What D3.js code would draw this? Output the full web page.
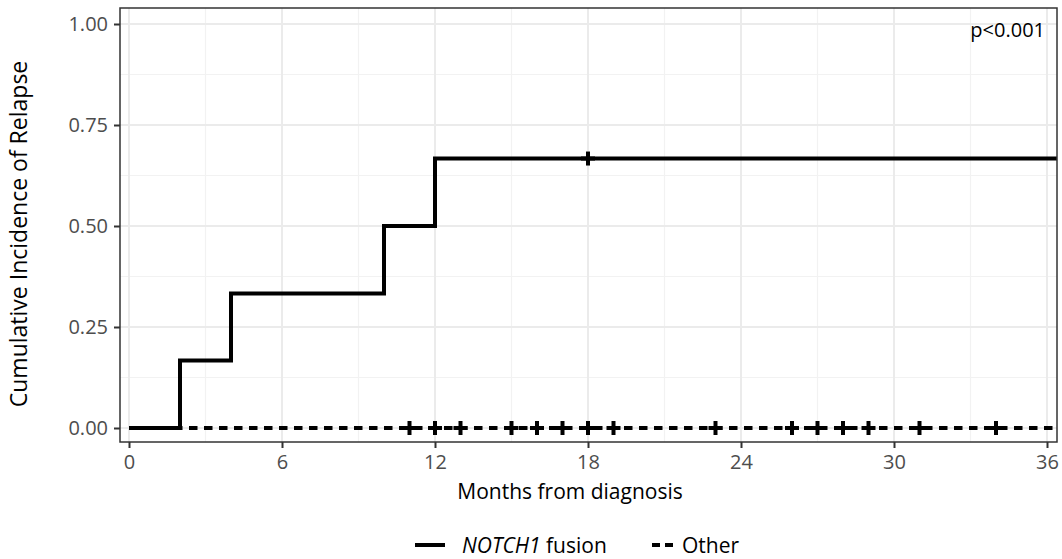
<!DOCTYPE html>
<html>
<head>
<meta charset="utf-8">
<script src="https://cdn.jsdelivr.net/npm/d3@7"></script>
<style>
body { margin: 0; background: #fff; }
text { font-family: "Open Sans", sans-serif; }
</style>
</head>
<body>
<div id="chart"></div>
<script>
// step data
const notchTime = [0, 2, 4, 10, 12, 36.4];
const notchCif = [0, 0.167, 0.333, 0.5, 0.667, 0.667];
const notchCensor = [18];
const otherTime = [0, 36.4];
const otherCif = [0, 0];
const otherCensor = [11, 12, 13, 15, 16, 17, 18, 19, 23, 26, 27, 28, 29, 31, 34];
const xTicks = [0, 6, 12, 18, 24, 30, 36];
const yTicks = [0, 0.25, 0.5, 0.75, 1];

const W = 1062, H = 559;
const panel = {left: 120, right: 1057, top: 8, bottom: 442};

const svg = d3.select("#chart").append("svg")
    .attr("width", W).attr("height", H);

const x = d3.scaleLinear().domain([0, 36]).range([129, 1047]);
const y = d3.scaleLinear().domain([0, 1]).range([428, 24]);

svg.append("defs").append("clipPath").attr("id", "clip")
    .append("rect")
    .attr("x", panel.left).attr("y", panel.top)
    .attr("width", panel.right - panel.left).attr("height", panel.bottom - panel.top);

const g = svg.append("g");

// minor grid
const xMinor = [3, 9, 15, 21, 27, 33];
const yMinor = [0.125, 0.375, 0.625, 0.875];
g.selectAll(".xminor").data(xMinor).enter().append("line")
    .attr("x1", d => x(d)).attr("x2", d => x(d))
    .attr("y1", panel.top).attr("y2", panel.bottom)
    .attr("stroke", "#f2f2f2").attr("stroke-width", 1.2);
g.selectAll(".yminor").data(yMinor).enter().append("line")
    .attr("y1", d => y(d)).attr("y2", d => y(d))
    .attr("x1", panel.left).attr("x2", panel.right)
    .attr("stroke", "#f2f2f2").attr("stroke-width", 1.2);
// major grid
g.selectAll(".xmajor").data(xTicks).enter().append("line")
    .attr("x1", d => x(d)).attr("x2", d => x(d))
    .attr("y1", panel.top).attr("y2", panel.bottom)
    .attr("stroke", "#ebebeb").attr("stroke-width", 2);
g.selectAll(".ymajor").data(yTicks).enter().append("line")
    .attr("y1", d => y(d)).attr("y2", d => y(d))
    .attr("x1", panel.left).attr("x2", panel.right)
    .attr("stroke", "#ebebeb").attr("stroke-width", 2);

// curves
const line = d3.line().curve(d3.curveStepAfter);
const curves = svg.append("g").attr("clip-path", "url(#clip)");

curves.append("path")
    .attr("d", line(otherTime.map((t, i) => [x(t), y(otherCif[i])])))
    .attr("fill", "none").attr("stroke", "#000")
    .attr("stroke-width", 4).attr("stroke-dasharray", "8.5,6.5");

curves.append("path")
    .attr("d", line(notchTime.map((t, i) => [x(t), y(notchCif[i])])))
    .attr("fill", "none").attr("stroke", "#000")
    .attr("stroke-width", 4);

// censor marks
function plus(sel, times, val) {
    const s = 7;
    times.forEach(t => {
        const cx = x(t), cy = y(val);
        sel.append("line").attr("x1", cx - s).attr("x2", cx + s)
            .attr("y1", cy).attr("y2", cy)
            .attr("stroke", "#000").attr("stroke-width", 4);
        sel.append("line").attr("x1", cx).attr("x2", cx)
            .attr("y1", cy - s).attr("y2", cy + s)
            .attr("stroke", "#000").attr("stroke-width", 4);
    });
}
plus(curves, otherCensor, 0);
plus(curves, notchCensor, 0.667);

// panel border
svg.append("rect")
    .attr("x", panel.left).attr("y", panel.top)
    .attr("width", panel.right - panel.left).attr("height", panel.bottom - panel.top)
    .attr("fill", "none").attr("stroke", "#333").attr("stroke-width", 1.5);

// axes
const xAxis = svg.append("g")
    .attr("transform", `translate(0,${panel.bottom})`)
    .call(d3.axisBottom(x).tickValues(xTicks).tickSize(6).tickPadding(7).tickFormat(d3.format("d")));
const yAxis = svg.append("g")
    .attr("transform", `translate(${panel.left},0)`)
    .call(d3.axisLeft(y).tickValues(yTicks).tickSize(6).tickPadding(6).tickFormat(d3.format(".2f")));
[xAxis, yAxis].forEach(a => {
    a.select(".domain").remove();
    a.selectAll(".tick line").attr("stroke", "#333").attr("stroke-width", 2);
    a.selectAll(".tick text").attr("fill", "#4d4d4d")
        .style("font-family", "'Open Sans', sans-serif").style("font-size", "20px");
});

// titles
svg.append("text")
    .attr("x", 570).attr("y", 499)
    .attr("text-anchor", "middle").attr("font-size", 21).attr("fill", "#000")
    .text("Months from diagnosis");
svg.append("text")
    .attr("transform", "translate(27,234) rotate(-90)")
    .attr("text-anchor", "middle").attr("font-size", 23).attr("fill", "#000")
    .text("Cumulative Incidence of Relapse");

svg.append("text")
    .attr("x", 1045).attr("y", 37)
    .attr("text-anchor", "end").attr("font-size", 20).attr("fill", "#000")
    .text("p<0.001");

// legend
const leg = svg.append("g");
leg.append("line").attr("x1", 415).attr("x2", 445).attr("y1", 545).attr("y2", 545)
    .attr("stroke", "#000").attr("stroke-width", 4);
const t1 = leg.append("text").attr("x", 462).attr("y", 553).attr("font-size", 21).attr("fill", "#000");
t1.append("tspan").attr("font-style", "italic").text("NOTCH1");
t1.append("tspan").text(" fusion");
leg.append("line").attr("x1", 652).attr("x2", 673).attr("y1", 545).attr("y2", 545)
    .attr("stroke", "#000").attr("stroke-width", 4).attr("stroke-dasharray", "8,5");
leg.append("text").attr("x", 682).attr("y", 553).attr("font-size", 21).attr("fill", "#000")
    .text("Other");
</script>
</body>
</html>
